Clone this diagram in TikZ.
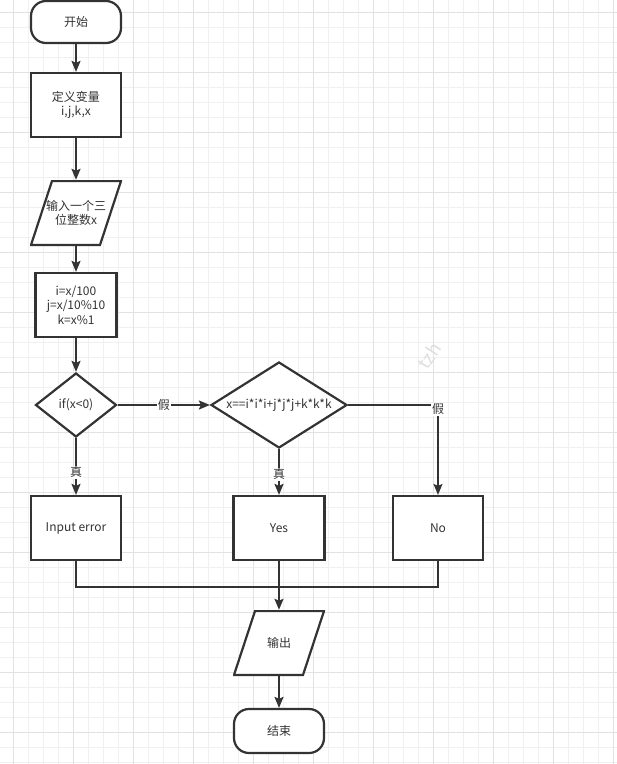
\documentclass[tikz,border=0pt]{standalone}
\usepackage{fontspec}
\setmainfont{Noto Sans CJK SC}
\usepackage{xcolor}
\usetikzlibrary{arrows.meta}
\usetikzlibrary{calc}
\usetikzlibrary{shapes.geometric}

\definecolor{inkgray}{RGB}{51,51,51}
\definecolor{gridminor}{RGB}{240,240,240}
\definecolor{gridmajor}{RGB}{226,226,226}

\tikzset{
    grid minor/.style={
        color=gridminor,
        line width=1pt,
    },
    grid major/.style={
        color=gridmajor,
        line width=1.1pt,
    },
    flow text/.style={
        text=inkgray,
        font=\fontsize{12}{14.5}\selectfont,
        align=center,
    },
    process box/.style={
        flow text,
        draw=inkgray,
        fill=white,
        line width=2.2pt,
        rectangle,
        minimum width=90pt,
        minimum height=64pt,
        inner sep=0,
    },
    terminal box/.style={
        process box,
        rounded corners=15pt,
        minimum height=42pt,
    },
    io box/.style={
        flow text,
        minimum width=92pt,
        minimum height=66pt,
        inner sep=0,
        path picture={
            \draw[draw=inkgray, fill=white, line width=2.2pt]
                ($(path picture bounding box.north west)+(22,1)$) --
                ($(path picture bounding box.north east)+(-1,1)$) --
                ($(path picture bounding box.south east)+(-22,-1)$) --
                ($(path picture bounding box.south west)+(1,-1)$) -- cycle;
        },
    },
    decision box/.style={
        flow text,
        draw=inkgray,
        fill=white,
        line width=2.2pt,
        diamond,
        inner sep=0,
    },
    flow arrow/.style={
        draw=inkgray,
        line width=2pt,
        -{Stealth[length=11pt,width=9pt,inset=2pt]},
    },
    side link/.style={
        draw=inkgray,
        line width=1.4pt,
    },
    side arrow/.style={
        side link,
        -{Stealth[length=11pt,width=9pt,inset=2pt]},
    },
    edge tag/.style={
        flow text,
        fill=white,
        inner sep=1pt,
    },
}

\begin{document}
\begin{tikzpicture}[x=1pt, y=-1pt]

    \useasboundingbox (0, 0) rectangle (617, 764);
    \fill[white] (0, 0) rectangle (617, 764);

    \foreach \i in {0,...,40}
    {
        \draw[grid minor] ({13.33+15*\i}, 0) -- ({13.33+15*\i}, 764);
    }
    \foreach \j in {0,...,50}
    {
        \draw[grid minor] (0, {12.67+15*\j}) -- (617, {12.67+15*\j});
    }
    \foreach \i in {0,...,10}
    {
        \draw[grid major] ({13.33+60*\i}, 0) -- ({13.33+60*\i}, 764);
    }
    \foreach \j in {0,...,12}
    {
        \draw[grid major] (0, {12.67+60*\j}) -- (617, {12.67+60*\j});
    }

    \node[text=gray!25, rotate=57, font=\fontsize{18}{18}\selectfont] (stamp) at (429, 356) {tzh};

    \node[terminal box] (start) at (76, 22) {开始};
    \node[process box] (define) at (76, 105) {定义变量\\i,j,k,x};
    \node[io box] (input) at (76, 213) {输入一个三\\位整数x};
    \node[process box, minimum width=81pt] (split) at (76, 305) {i=x/100\\j=x/10\%10\\k=x\%1};
    \node[decision box, minimum width=81pt, minimum height=64pt] (ifneg) at (76, 405) {if(x<0)};
    \node[decision box, aspect=1.6, minimum width=136pt, minimum height=86pt] (check) at (279, 405) {x==i*i*i+j*j*j+k*k*k};
    \node[process box] (err) at (76, 528) {Input error};
    \node[process box, minimum width=91pt] (yes) at (279, 528) {Yes};
    \node[process box] (no) at (438, 528) {No};
    \node[io box] (output) at (279, 643) {输出};
    \node[terminal box, minimum width=90pt, minimum height=44pt] (stop) at (279, 731) {结束};

    \coordinate (merge) at (279, 587);

    \draw[flow arrow] (start) -- (define);
    \draw[flow arrow] (define) -- (input);
    \draw[flow arrow] (input) -- (split);
    \draw[flow arrow] (split) -- (ifneg);
    \draw[flow arrow] (ifneg) -- node[edge tag] {假} (check);
    \draw[flow arrow] (ifneg) -- node[edge tag, pos=0.6] {真} (err);
    \draw[flow arrow] (check) -- node[edge tag, pos=0.55] {真} (yes);
    \draw[side arrow] (check.east) -| node[edge tag, pos=0.5, yshift=-4pt] {假} (no.north);

    \draw[side link] (err.south) |- (merge);
    \draw[side link] (no.south) |- (merge);
    \draw[flow arrow] (yes) -- (output);
    \draw[flow arrow] (output) -- (stop);

\end{tikzpicture}
\end{document}
